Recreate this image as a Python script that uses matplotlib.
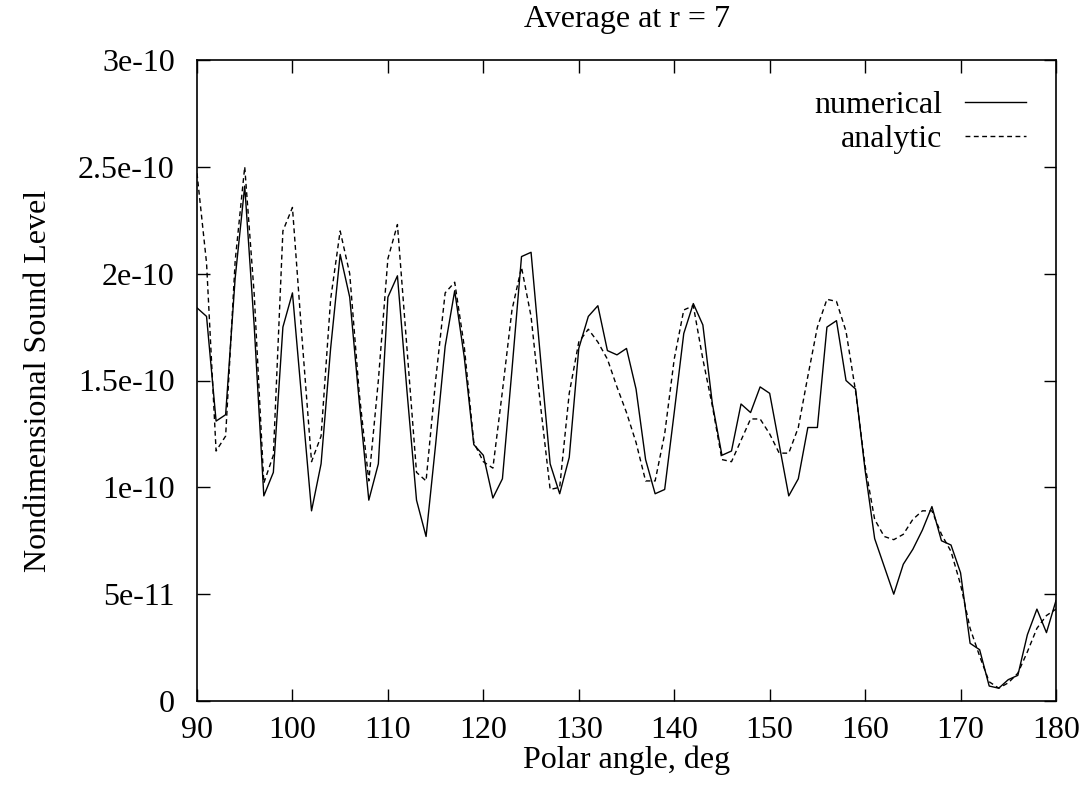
import numpy as np
import matplotlib.pyplot as plt

#------------------------------------------------------------------------------
# Data (sound level in units of 1e-10)
#------------------------------------------------------------------------------
angle = np.arange(90, 181, 1)

numerical = [1.84, 1.80, 1.31, 1.34, 1.98, 2.41, 1.75, 0.96, 1.07, 1.75,
             1.91, 1.40, 0.89, 1.11, 1.65, 2.09, 1.89, 1.40, 0.94, 1.11,
             1.89, 1.99, 1.45, 0.94, 0.77, 1.20, 1.66, 1.92, 1.61, 1.20,
             1.15, 0.95, 1.04, 1.55, 2.08, 2.10, 1.60, 1.11, 0.97, 1.14,
             1.65, 1.80, 1.85, 1.64, 1.62, 1.65, 1.46, 1.13, 0.97, 0.99,
             1.35, 1.72, 1.86, 1.76, 1.39, 1.15, 1.17, 1.39, 1.35, 1.47,
             1.44, 1.20, 0.96, 1.04, 1.28, 1.28, 1.75, 1.78, 1.50, 1.46,
             1.08, 0.76, 0.63, 0.50, 0.64, 0.71, 0.80, 0.91, 0.75, 0.73,
             0.60, 0.27, 0.24, 0.07, 0.06, 0.10, 0.12, 0.31, 0.43, 0.32,
             0.47]

analytic = [2.47, 2.05, 1.17, 1.24, 2.06, 2.50, 1.90, 1.02, 1.15, 2.20,
            2.31, 1.70, 1.12, 1.24, 1.88, 2.20, 2.00, 1.44, 1.03, 1.50,
            2.07, 2.23, 1.65, 1.07, 1.03, 1.50, 1.91, 1.96, 1.66, 1.21,
            1.12, 1.09, 1.45, 1.83, 2.03, 1.80, 1.38, 0.99, 1.00, 1.44,
            1.68, 1.74, 1.68, 1.60, 1.47, 1.35, 1.21, 1.03, 1.03, 1.25,
            1.60, 1.83, 1.85, 1.60, 1.38, 1.13, 1.12, 1.22, 1.32, 1.32,
            1.25, 1.16, 1.16, 1.28, 1.52, 1.75, 1.88, 1.87, 1.73, 1.45,
            1.10, 0.85, 0.77, 0.755, 0.78, 0.85, 0.89, 0.89, 0.78, 0.70,
            0.545, 0.34, 0.21, 0.09, 0.06, 0.085, 0.13, 0.23, 0.34, 0.40,
            0.43]

yticks = [0, 0.5e-10, 1e-10, 1.5e-10, 2e-10, 2.5e-10, 3e-10]
ytick_labels = ['0', '5e-11', '1e-10', '1.5e-10', '2e-10', '2.5e-10', '3e-10']
xticks = np.arange(90, 181, 10)

#------------------------------------------------------------------------------
# Plot
#------------------------------------------------------------------------------
plt.rcParams['font.family'] = ['Liberation Serif', 'DejaVu Serif']
plt.rcParams['font.size'] = 23

fig = plt.figure(figsize=(10.9, 7.86), dpi=100)
ax = fig.add_subplot(111)
fig.subplots_adjust(left=197/1090, right=1056/1090, top=1-60/786, bottom=1-701/786)

ax.plot(angle, np.array(numerical)*1e-10, color='black', linewidth=1.0, label='numerical')
ax.plot(angle, np.array(analytic)*1e-10, color='black', linewidth=1.0,
        linestyle=(0, (3.5, 2.5)), label='analytic')

ax.set_xlim(90, 180)
ax.set_ylim(0, 3e-10)
ax.set_xticks(xticks)
ax.set_yticks(yticks)
ax.set_yticklabels(ytick_labels)
ax.tick_params(direction='in', length=9, width=1.0, top=True, right=True)
ax.tick_params(axis='x', pad=11)
ax.tick_params(axis='y', pad=16)
for s in ax.spines.values():
    s.set_linewidth(1.2)

ax.set_title('Average at r = 7', fontsize=23, pad=24)
ax.set_xlabel('Polar angle, deg', labelpad=0)
ax.set_ylabel('Nondimensional Sound Level', labelpad=18)

ax.legend(loc='upper right', frameon=False, markerfirst=False,
          handlelength=1.9, handletextpad=0.7, labelspacing=0.15,
          borderaxespad=0.5, borderpad=0.45, fontsize=23)

plt.savefig('out.png', dpi=100)
